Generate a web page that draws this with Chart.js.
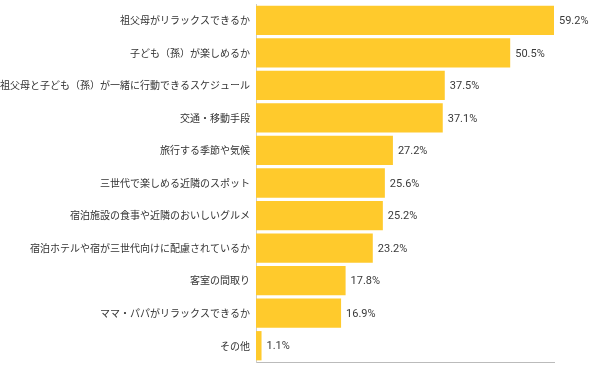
<!DOCTYPE html>
<html>
<head>
<meta charset="utf-8">
<script src="https://cdn.jsdelivr.net/npm/chart.js@4"></script>
<style>
  html, body { margin: 0; padding: 0; background: #fff; }
  #wrap { width: 601px; height: 367px; }
</style>
</head>
<body>
<div id="wrap"><canvas id="myChart" width="601" height="367"></canvas></div>
<script>
// data
const categories = [
    '祖父母がリラックスできるか',
    '子ども（孫）が楽しめるか',
    '祖父母と子ども（孫）が一緒に行動できるスケジュール',
    '交通・移動手段',
    '旅行する季節や気候',
    '三世代で楽しめる近隣のスポット',
    '宿泊施設の食事や近隣のおいしいグルメ',
    '宿泊ホテルや宿が三世代向けに配慮されているか',
    '客室の間取り',
    'ママ・パパがリラックスできるか',
    'その他'
]
const percents = [59.2, 50.5, 37.5, 37.1, 27.2, 25.6, 25.2, 23.2, 17.8, 16.9, 1.1]

// ラベル（バーの右）
const valueLabels = {
    id: 'valueLabels',
    afterDatasetsDraw(chart) {
        const { ctx } = chart;
        const meta = chart.getDatasetMeta(0);
        ctx.save();
        ctx.font = '11px "Roboto", sans-serif';
        ctx.fillStyle = '#3a3a3a';
        ctx.textAlign = 'left';
        ctx.textBaseline = 'middle';
        meta.data.forEach((bar, i) => {
            ctx.fillText(percents[i].toFixed(1) + '%', bar.x + 5, bar.y + 1);
        });
        ctx.restore();
    }
}

const barChart = document.getElementById('myChart');
new Chart(barChart, {
    type: 'bar',
    data: {
        labels: categories,
        datasets: [{
            data: percents,
            backgroundColor: '#FFCA2C',
            borderWidth: 0,
            barPercentage: 0.9,
            categoryPercentage: 1.0
        }]
    },
    options: {
        indexAxis: 'y',
        responsive: false,
        animation: false,
        layout: { padding: { top: 4, right: 47, bottom: 0, left: 0 } },
        plugins: {
            legend: { display: false },
            tooltip: { enabled: false }
        },
        scales: {
            x: {
                min: 0,
                max: Math.max(...percents),
                grid: { display: false, drawTicks: false },
                border: { display: true, color: '#bbb', width: 1 },
                ticks: { display: false },
                afterFit(scale) {
                    scale.height = 5;
                    scale.paddingLeft = 0;
                    scale.paddingRight = 0;
                }
            },
            y: {
                grid: { display: false, drawTicks: false },
                border: { display: true, color: '#ccc', width: 1 },
                ticks: {
                    color: '#333',
                    padding: 6,
                    autoSkip: false,
                    font: { size: 10, family: '"Noto Sans CJK JP", sans-serif' }
                },
                afterFit(scale) {
                    scale.width = 256;
                    scale.paddingTop = 0;
                    scale.paddingBottom = 0;
                }
            }
        }
    },
    plugins: [valueLabels]
});
</script>
</body>
</html>
